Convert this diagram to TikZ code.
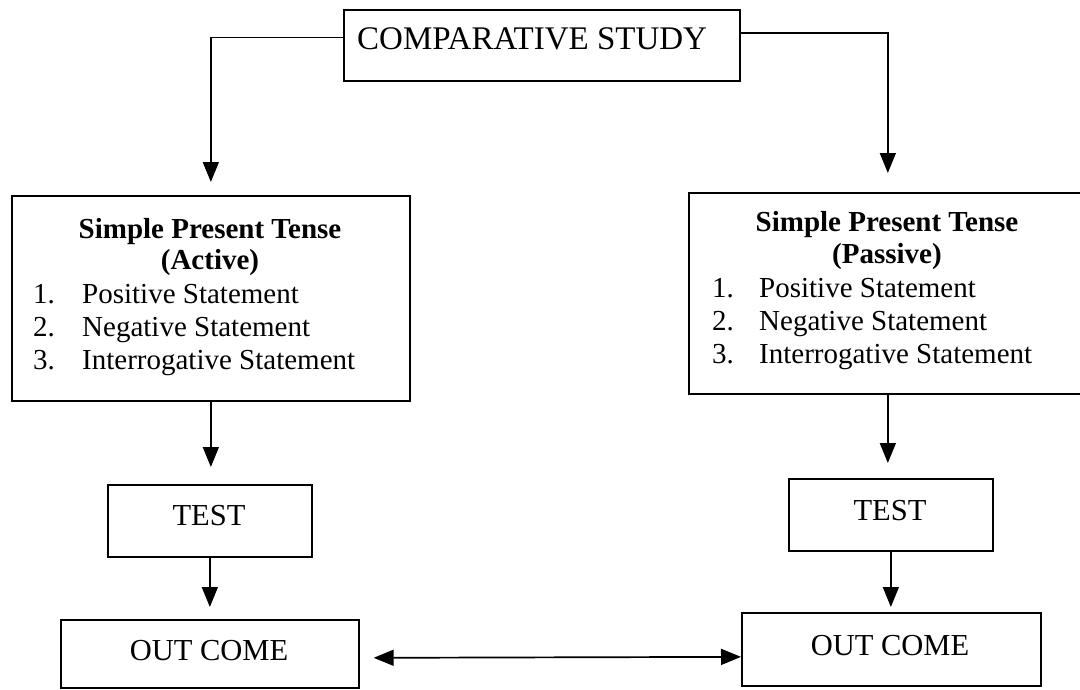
\documentclass[tikz,border=0pt]{standalone}
\usepackage{fontspec}
\setmainfont{Liberation Serif}
\usetikzlibrary{arrows.meta}
\newcommand\fsList{\fontsize{29}{33}\selectfont}
\newcommand\fsBox{\fontsize{30.5}{34}\selectfont}
\newcommand\fsComp{\fontsize{33}{38}\selectfont}
\begin{document}
\begin{tikzpicture}[x=1pt,y=-1pt,
  box/.style={draw,line width=1.7pt,rectangle,inner sep=0pt,anchor=north west},
  lbl/.style={inner sep=0pt,anchor=base},
  lblw/.style={inner sep=0pt,anchor=base west},
  arr/.style={line width=1.5pt,-{Triangle[length=20pt,width=16pt]}},
  dbl/.style={line width=1.7pt,{Triangle[length=20pt,width=16pt]}-{Triangle[length=20pt,width=16pt]}}
]
\useasboundingbox (0,0) rectangle (1080,689);
\clip (0,0) rectangle (1080,689);
\fill[white] (0,0) rectangle (1080,689);

% top box
\node[box,minimum width=396pt,minimum height=71pt] (comp) at (343,9) {};
\node[lblw,font=\fsComp] (compt) at (357,49) {COMPARATIVE STUDY};

% left tense box
\node[box,minimum width=398pt,minimum height=205pt] (lbox) at (11,195) {};
\node[lbl,font=\fsList\bfseries] (lt1) at (210,238) {Simple Present Tense};
\node[lbl,font=\fsList\bfseries] (lt2) at (210,269) {(Active)};
\node[lblw,font=\fsList] (ln1) at (33,303) {1.};
\node[lblw,font=\fsList] (li1) at (82,303) {Positive Statement};
\node[lblw,font=\fsList] (ln2) at (33,336) {2.};
\node[lblw,font=\fsList] (li2) at (82,336) {Negative Statement};
\node[lblw,font=\fsList] (ln3) at (33,369) {3.};
\node[lblw,font=\fsList] (li3) at (82,369) {Interrogative Statement};

% right tense box
\node[box,minimum width=398pt,minimum height=201pt] (rbox) at (688,192) {};
\node[lbl,font=\fsList\bfseries] (rt1) at (887,231) {Simple Present Tense};
\node[lbl,font=\fsList\bfseries] (rt2) at (887,263) {(Passive)};
\node[lblw,font=\fsList] (rn1) at (712,297) {1.};
\node[lblw,font=\fsList] (ri1) at (759,297) {Positive Statement};
\node[lblw,font=\fsList] (rn2) at (712,330) {2.};
\node[lblw,font=\fsList] (ri2) at (759,330) {Negative Statement};
\node[lblw,font=\fsList] (rn3) at (712,363) {3.};
\node[lblw,font=\fsList] (ri3) at (759,363) {Interrogative Statement};

% test boxes
\node[box,minimum width=204pt,minimum height=72pt] (ltest) at (107,484) {};
\node[lbl,font=\fsBox] (ltestt) at (209,525) {TEST};
\node[box,minimum width=204pt,minimum height=72pt] (rtest) at (788,478) {};
\node[lbl,font=\fsBox] (rtestt) at (890,520) {TEST};

% outcome boxes
\node[box,minimum width=298pt,minimum height=68pt] (lout) at (60,619) {};
\node[lbl,font=\fsBox] (loutt) at (209,660) {OUT COME};
\node[box,minimum width=299pt,minimum height=73pt] (rout) at (741,612) {};
\node[lbl,font=\fsBox] (routt) at (890,655) {OUT COME};

% connectors
\draw[arr,shorten >=13pt] ([yshift=8pt]comp.west) -| (lbox.north);
\draw[arr,shorten >=19pt] ([yshift=12.5pt]comp.east) -| (rbox.north);
\draw[arr,shorten >=17pt] (lbox.south) -- (lbox.south |- ltest.north);
\draw[arr,shorten >=15pt] (rbox.south) -- (rbox.south |- rtest.north);
\draw[arr,shorten >=12pt] (ltest.south) -- (ltest.south |- lout.north);
\draw[arr,shorten >=5pt] (rtest.south) -- (rtest.south |- rout.north);
\draw[dbl,shorten <=14pt] ([yshift=-4pt]lout.east) -- ([yshift=-7.5pt]rout.west);
\end{tikzpicture}
\end{document}
